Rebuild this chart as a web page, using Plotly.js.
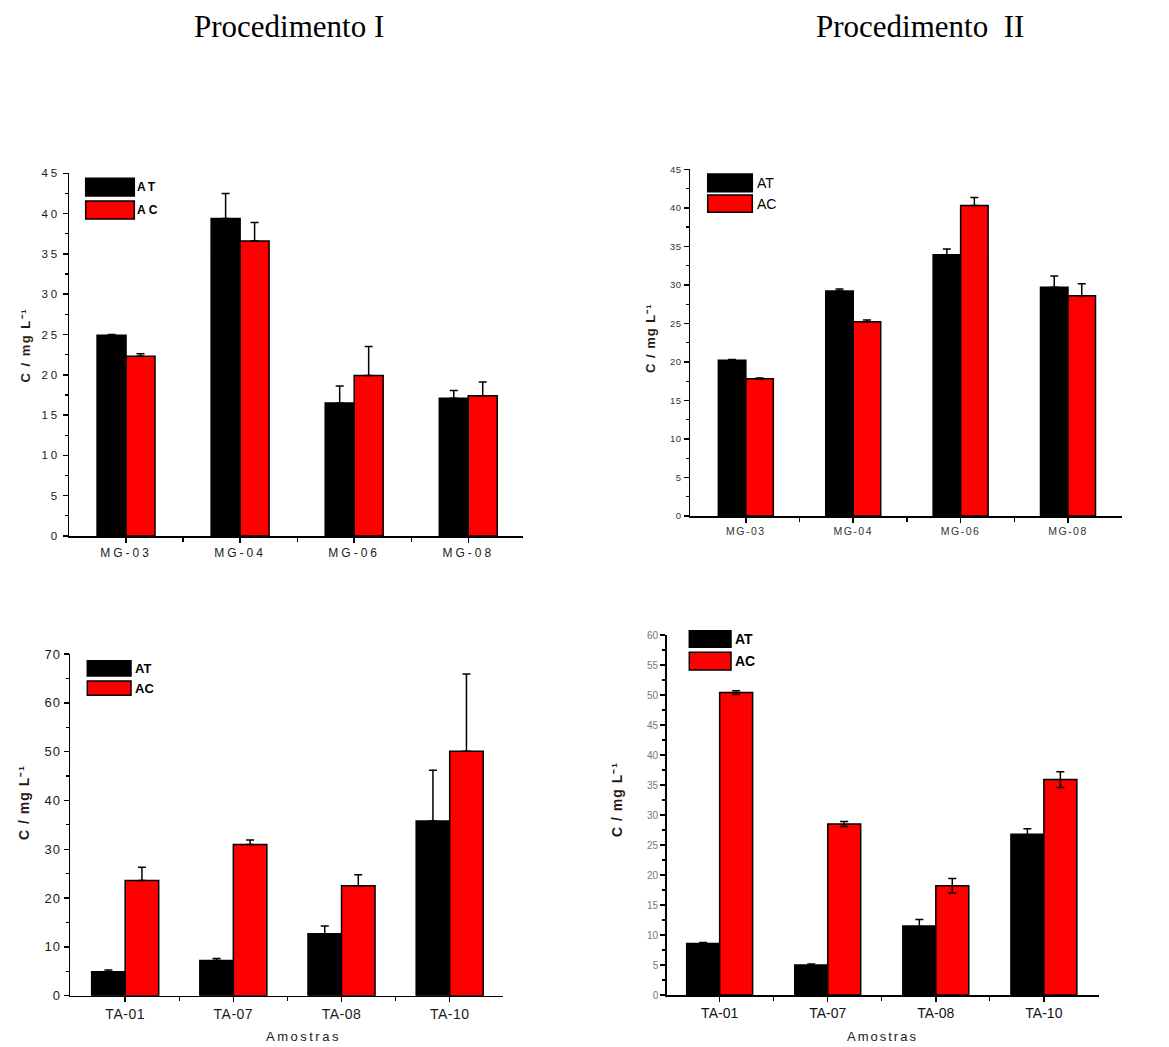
<!DOCTYPE html>
<html>
<head>
<meta charset="utf-8">
<script src="https://cdn.plot.ly/plotly-3.0.1.min.js"></script>
<style>
html,body{margin:0;padding:0;background:#fff;}
#chart{width:1169px;height:1047px;}
</style>
<style id="dyn"></style>
</head>
<body>
<div id="chart"></div>
<script>
// ---- data ----
const mgCategories = ['MG-03','MG-04','MG-06','MG-08'];
const taCategories = ['TA-01','TA-07','TA-08','TA-10'];
const seriesNames = ['AT','AC'];

// Procedimento I - MG
const p1AT = [24.9, 39.4, 16.5, 17.1];
const p1ATerr = [0.1, 3.1, 2.1, 0.95];
const p1AC = [22.3, 36.6, 19.9, 17.4];
const p1ACerr = [0.3, 2.3, 3.6, 1.7];
// Procedimento II - MG
const p2AT = [20.2, 29.2, 33.9, 29.7];
const p2ATerr = [0.1, 0.25, 0.75, 1.45];
const p2AC = [17.8, 25.2, 40.3, 28.6];
const p2ACerr = [0.1, 0.25, 1.05, 1.55];
// Procedimento I - TA
const p3AT = [4.9, 7.2, 12.7, 35.8];
const p3ATerr = [0.35, 0.4, 1.6, 10.4];
const p3AC = [23.6, 31.0, 22.5, 50.1];
const p3ACerr = [2.7, 0.9, 2.3, 15.8];
// Procedimento II - TA
const p4AT = [8.6, 5.0, 11.5, 26.8];
const p4ATerr = [0.15, 0.15, 1.1, 0.9];
const p4AC = [50.4, 28.5, 18.2, 35.9];
const p4ACerr = [0.3, 0.4, 1.2, 1.3];

const yTitle = 'C / mg L\u207B\u00B9';
const xTitle = 'Amostras';
const titleI = 'Procedimento I';
const titleII = 'Procedimento\u00a0 II';

// ---- layout helpers ----
const W = 1169, H = 1047;
const px = x => x / W;
const py = y => 1 - y / H;

const panels = [
  {cats: mgCategories, at: p1AT, atE: p1ATerr, ac: p1AC, acE: p1ACerr, sym: false,
   x0: 69, x1: 523, yTop: 173.3, yBot: 536, xr: [-0.5, 3.48], yr: [0, 45], dt: 5, mdt: 2.5, bw: 0.254,
   xf: 12, xls: 3, yf: 11.5, yls: 3, xc: '#1a1a1a', yc: '#1a1a1a',
   leg: {x0: 85.7, x1: 134.3, b: [178.3, 196], r: [201, 219], tx: 138, fs: 12, bold: true, ls: 3},
   yt: {x: 25, y: 345, fs: 13, ls: 1.5}, xt: null},
  {cats: mgCategories, at: p2AT, atE: p2ATerr, ac: p2AC, acE: p2ACerr, sym: false,
   x0: 690, x1: 1121.7, yTop: 169.3, yBot: 516, xr: [-0.52, 3.5], yr: [0, 45], dt: 5, mdt: 2.5, bw: 0.256,
   xf: 10.5, xls: 1.5, yf: 9.5, yls: 0.5, xc: '#333', yc: '#333',
   leg: {x0: 707.7, x1: 752.3, b: [174, 191.7], r: [195, 212.3], tx: 755, fs: 14, bold: false, ls: 0},
   yt: {x: 650, y: 338, fs: 13, ls: 1}, xt: null},
  {cats: taCategories, at: p3AT, atE: p3ATerr, ac: p3AC, acE: p3ACerr, sym: false,
   x0: 70, x1: 502.7, yTop: 654, yBot: 995.7, xr: [-0.51, 3.49], yr: [0, 70], dt: 10, mdt: 5, bw: 0.31,
   xf: 14, xls: 0.5, yf: 13, yls: 1, xc: '#1a1a1a', yc: '#1a1a1a',
   leg: {x0: 87.3, x1: 131, b: [660.7, 676], r: [681, 695.3], tx: 133, fs: 13, bold: true, ls: 0},
   yt: {x: 24, y: 803, fs: 14, ls: 1}, xt: {x: 303, y: 1036, fs: 13, ls: 2.5}},
  {cats: taCategories, at: p4AT, atE: p4ATerr, ac: p4AC, acE: p4ACerr, sym: true,
   x0: 666.7, x1: 1099, yTop: 635, yBot: 995, xr: [-0.49, 3.51], yr: [0, 60], dt: 5, mdt: 2.5, bw: 0.305,
   xf: 14, xls: 0, yf: 10, yls: 0, xc: '#111', yc: '#777',
   leg: {x0: 689.3, x1: 731, b: [630.7, 647.3], r: [652.3, 670], tx: 733, fs: 14, bold: true, ls: 0},
   yt: {x: 617, y: 800, fs: 14, ls: 1}, xt: {x: 882, y: 1036, fs: 13, ls: 2}}
];

const traces = [];
const layout = {
  width: W, height: H,
  margin: {l: 0, r: 0, t: 0, b: 0},
  paper_bgcolor: '#fff', plot_bgcolor: 'rgba(0,0,0,0)',
  showlegend: false,
  barmode: 'overlay',
  font: {family: 'Liberation Sans, Arial, sans-serif', color: '#000'},
  shapes: [], annotations: []
};
let css = '';
const annSpacing = [];
function addAnn(a, ls) {
  annSpacing.push(ls || 0);
  layout.annotations.push(a);
}

panels.forEach((p, i) => {
  const n = i + 1;
  const xa = n === 1 ? 'x' : 'x' + n;
  const ya = n === 1 ? 'y' : 'y' + n;
  const idx = p.cats.map((c, k) => k);
  const mk = (vals, errs, color, offset, name) => ({
    type: 'bar', x: idx, y: vals, name: name,
    width: p.bw, offset: offset,
    xaxis: xa, yaxis: ya,
    marker: {color: color, line: {color: '#000', width: 1.5}},
    error_y: p.sym ? {type: 'data', array: errs, visible: true, color: '#000', thickness: 1.5, width: 4}
                   : {type: 'data', symmetric: false, array: errs, arrayminus: errs.map(() => 0), visible: true, color: '#000', thickness: 1.5, width: 4},
    hoverinfo: 'x+y'
  });
  traces.push(mk(p.at, p.atE, '#000000', -p.bw, seriesNames[0]));
  traces.push(mk(p.ac, p.acE, '#ff0000', 0, seriesNames[1]));

  const xk = n === 1 ? 'xaxis' : 'xaxis' + n;
  const yk = n === 1 ? 'yaxis' : 'yaxis' + n;
  layout[xk] = {
    domain: [px(p.x0), px(p.x1)], anchor: ya, range: p.xr, type: 'linear',
    tickmode: 'array', tickvals: idx, ticktext: p.cats,
    showline: true, linecolor: '#000', linewidth: 1.5,
    ticks: 'outside', ticklen: 5, tickwidth: 1.5, tickcolor: '#000',
    minor: {tickmode: 'array', tickvals: [0.5, 1.5, 2.5], ticks: 'outside', ticklen: 4, tickwidth: 1.2, tickcolor: '#000'},
    showgrid: false, zeroline: false, fixedrange: true,
    tickfont: {size: p.xf, color: p.xc, family: 'Liberation Sans, Arial, sans-serif'}
  };
  layout[yk] = {
    domain: [py(p.yBot), py(p.yTop)], anchor: xa, range: p.yr,
    tickmode: 'linear', tick0: 0, dtick: p.dt,
    showline: true, linecolor: '#000', linewidth: 1.5,
    ticks: 'outside', ticklen: 5, tickwidth: 1.5, tickcolor: '#000',
    minor: {dtick: p.mdt, tick0: 0, ticks: 'outside', ticklen: 3, tickwidth: 1.2, tickcolor: '#000'},
    showgrid: false, zeroline: false, fixedrange: true,
    tickfont: {size: p.yf, color: p.yc, family: 'Liberation Sans, Arial, sans-serif'}
  };
  const sub = '.subplot.' + xa + ya;
  css += `${sub} .${xa}tick text, ${sub} .xtick text{letter-spacing:${p.xls}px}\n`;
  css += `${sub} .${ya}tick text, ${sub} .ytick text{letter-spacing:${p.yls}px}\n`;

  // legend boxes
  const L = p.leg;
  layout.shapes.push({type: 'rect', xref: 'paper', yref: 'paper', x0: px(L.x0), x1: px(L.x1), y0: py(L.b[1]), y1: py(L.b[0]),
    fillcolor: '#000', line: {color: '#000', width: 1.5}});
  layout.shapes.push({type: 'rect', xref: 'paper', yref: 'paper', x0: px(L.x0), x1: px(L.x1), y0: py(L.r[1]), y1: py(L.r[0]),
    fillcolor: '#ff0000', line: {color: '#000', width: 1.5}});
  const lw = L.bold ? 'bold' : 'normal';
  addAnn({xref: 'paper', yref: 'paper', x: px(L.tx), y: py((L.b[0] + L.b[1]) / 2), xanchor: 'left', yanchor: 'middle',
    text: seriesNames[0], showarrow: false, font: {size: L.fs, weight: lw, color: '#000'}}, L.ls);
  addAnn({xref: 'paper', yref: 'paper', x: px(L.tx), y: py((L.r[0] + L.r[1]) / 2), xanchor: 'left', yanchor: 'middle',
    text: seriesNames[1], showarrow: false, font: {size: L.fs, weight: lw, color: '#000'}}, L.ls);

  // y axis title
  addAnn({xref: 'paper', yref: 'paper', x: px(p.yt.x), y: py(p.yt.y), xanchor: 'center', yanchor: 'middle',
    text: yTitle, textangle: -90, showarrow: false, font: {size: p.yt.fs, weight: 'bold', color: '#2a1a14'}}, p.yt.ls);
  if (p.xt) {
    addAnn({xref: 'paper', yref: 'paper', x: px(p.xt.x), y: py(p.xt.y), xanchor: 'center', yanchor: 'middle',
      text: xTitle, showarrow: false, font: {size: p.xt.fs, color: '#1a1a1a'}}, p.xt.ls);
  }
});

addAnn({xref: 'paper', yref: 'paper', x: px(289), y: py(27), xanchor: 'center', yanchor: 'middle',
  text: titleI, showarrow: false, font: {size: 31, family: 'Liberation Serif, Times New Roman, serif', color: '#000'}}, 0);
addAnn({xref: 'paper', yref: 'paper', x: px(920), y: py(27), xanchor: 'center', yanchor: 'middle',
  text: titleII, showarrow: false, font: {size: 31, family: 'Liberation Serif, Times New Roman, serif', color: '#000'}}, 0);

annSpacing.forEach((ls, k) => {
  if (ls) css += `.annotation[data-index="${k}"] text{letter-spacing:${ls}px}\n`;
});
document.getElementById('dyn').textContent = css;

Plotly.newPlot('chart', traces, layout, {staticPlot: true, displayModeBar: false});
</script>
</body>
</html>
